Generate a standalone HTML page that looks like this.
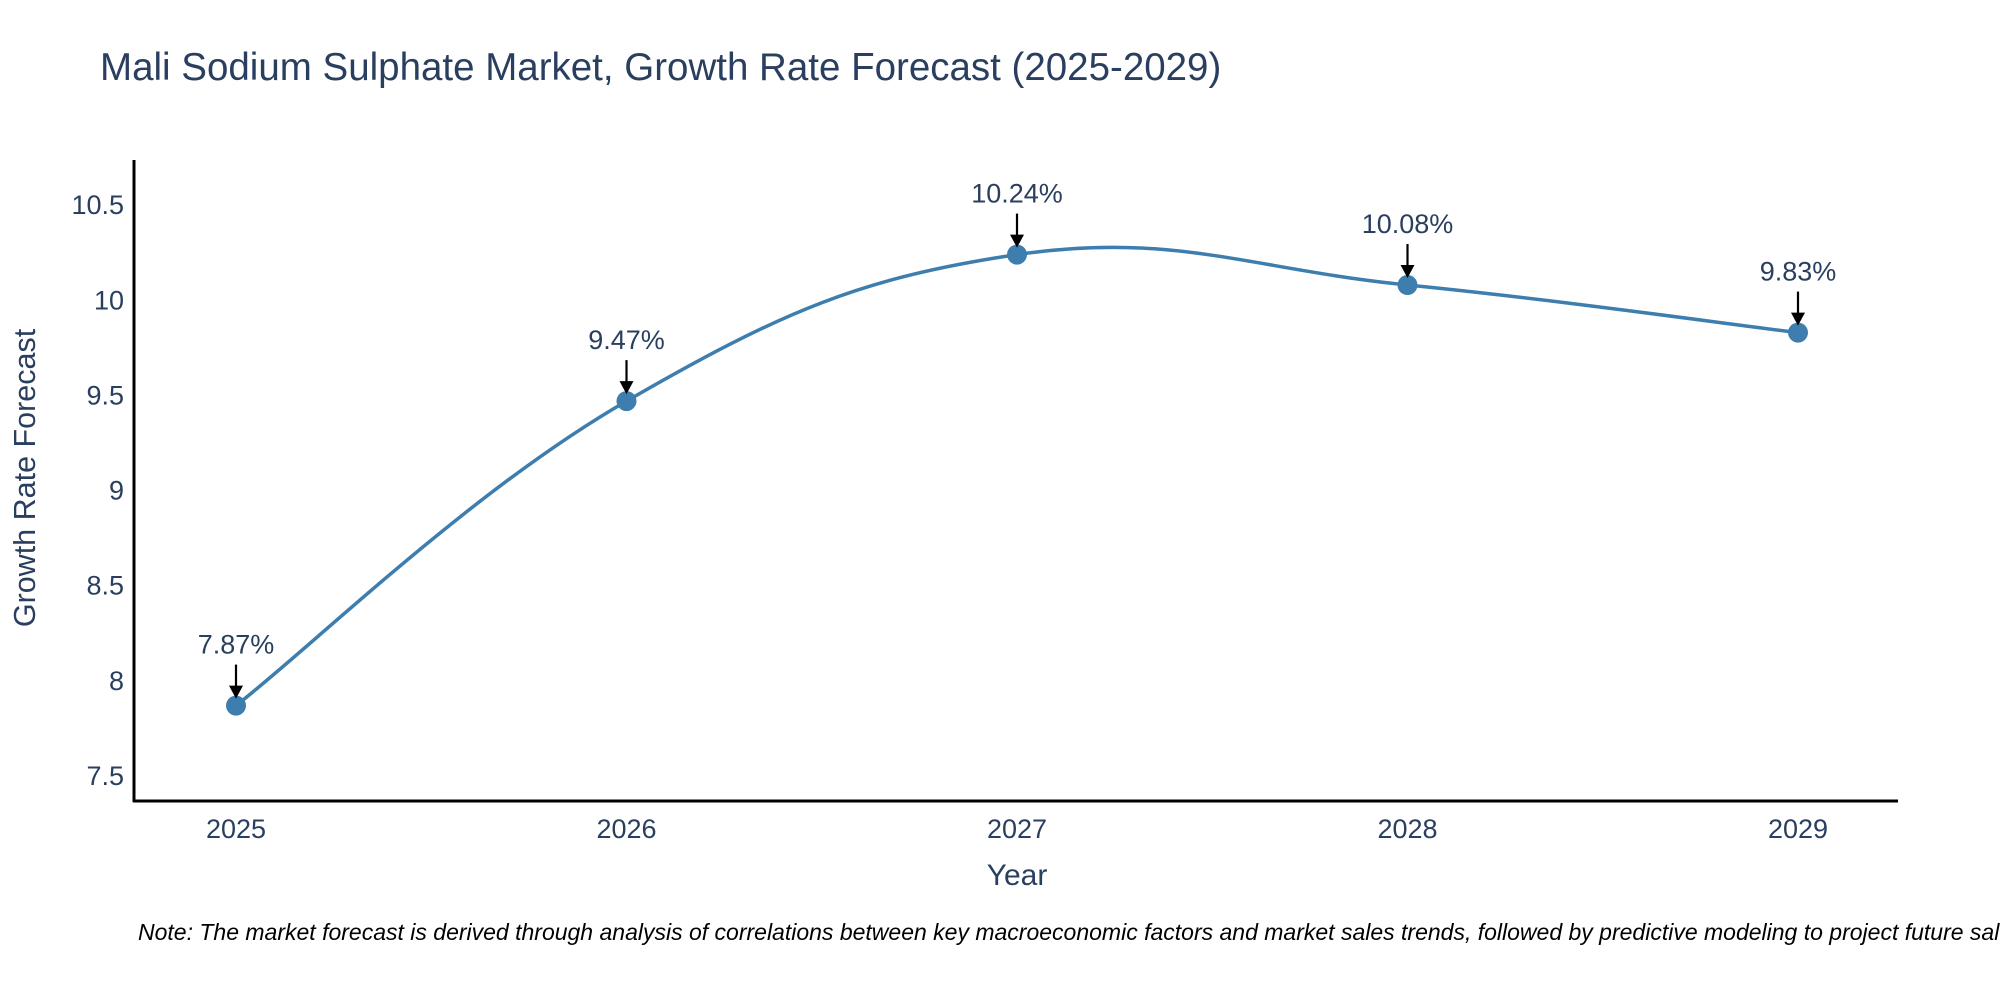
<!DOCTYPE html>
<html><head><meta charset="utf-8"><style>
body{margin:0;background:#fff;}
svg{display:block;font-family:"Liberation Sans",sans-serif;}
</style></head><body>
<svg id="chart" width="2000" height="1000">
<text x="100" y="80" font-size="38.5" fill="#2a3f5f">Mali Sodium Sulphate Market, Growth Rate Forecast (2025-2029)</text>
<g id="yticks"></g>
<g id="xticks"></g>
<line x1="134" y1="160" x2="134" y2="802" stroke="#000" stroke-width="3"/>
<line x1="133" y1="801" x2="1898" y2="801" stroke="#000" stroke-width="3"/>
<path id="line" fill="none" stroke="#3d7eae" stroke-width="3.5"/>
<g id="points"></g>
<g id="annos"></g>
<text x="1017" y="885" font-size="30" fill="#2a3f5f" text-anchor="middle">Year</text>
<text transform="translate(35,478) rotate(-90)" font-size="30.5" fill="#2a3f5f" text-anchor="middle">Growth Rate Forecast</text>
<text x="138" y="940" font-size="23" font-style="italic" fill="#000">Note: The market forecast is derived through analysis of correlations between key macroeconomic factors and market sales trends, followed by predictive modeling to project future sales.</text>
</svg>
<script>
const years=[2025,2026,2027,2028,2029];
const values=[7.87,9.47,10.24,10.08,9.83];
const labels=["7.87%","9.47%","10.24%","10.08%","9.83%"];
const yTicks=[7.5,8,8.5,9,9.5,10,10.5];
const yTickLabels=["7.5","8","8.5","9","9.5","10","10.5"];
const NS="http://www.w3.org/2000/svg";
function X(yr){return 236+(yr-2025)*390.5;}
function Y(v){return 776-(v-7.5)*190.3;}
function mk(tag,attrs,parent){const e=document.createElementNS(NS,tag);for(const k in attrs)e.setAttribute(k,attrs[k]);parent.appendChild(e);return e;}
const yt=document.getElementById('yticks');
yTicks.forEach((v,i)=>{const t=mk('text',{x:124,y:Y(v)+9,'font-size':27,fill:'#2a3f5f','text-anchor':'end'},yt);


t.textContent=yTickLabels[i];});
const xt=document.getElementById('xticks');
years.forEach(yr=>{const t=mk('text',{x:X(yr),y:838,'font-size':27,fill:'#2a3f5f','text-anchor':'middle'},xt);


t.textContent=String(yr);});
const P=years.map((yr,i)=>[X(yr),Y(values[i])]);
let d='M'+P[0][0]+','+P[0][1];
const s=1/5;
for(let i=0;i<P.length-1;i++){
const p0=P[Math.max(i-1,0)],p1=P[i],p2=P[i+1],p3=P[Math.min(i+2,P.length-1)];
const c1=[p1[0]+(p2[0]-p0[0])*s,p1[1]+(p2[1]-p0[1])*s];
const c2=[p2[0]-(p3[0]-p1[0])*s,p2[1]-(p3[1]-p1[1])*s];
d+=' C'+c1[0]+','+c1[1]+' '+c2[0]+','+c2[1]+' '+p2[0]+','+p2[1];}
document.getElementById('line').setAttribute('d',d);
const pts=document.getElementById('points'),an=document.getElementById('annos');
P.forEach((p,i)=>{
const c=mk('circle',{cx:p[0],cy:p[1],r:10,fill:'#3d7eae'},pts);


const l=mk('line',{x1:p[0],y1:p[1]-41,x2:p[0],y2:p[1]-18,stroke:'#000','stroke-width':2.2},an);


const h=mk('polygon',{points:(p[0]-7)+','+(p[1]-20)+' '+(p[0]+7)+','+(p[1]-20)+' '+p[0]+','+(p[1]-7),fill:'#000'},an);


const t=mk('text',{x:p[0],y:p[1]-52,'font-size':27,fill:'#2a3f5f','text-anchor':'middle'},an);


t.textContent=labels[i];});
</script>
</body></html>
